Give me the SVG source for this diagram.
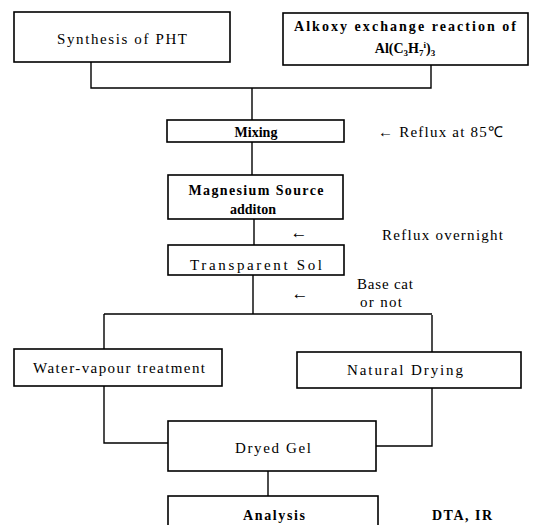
<svg xmlns="http://www.w3.org/2000/svg" width="543" height="525" viewBox="0 0 543 525">
<style>
.box{fill:#fff;stroke:#000;stroke-width:1.6}
.ln{fill:none;stroke:#000;stroke-width:1.4}
text{font-family:"Liberation Serif","Times New Roman",serif;font-size:15px;fill:#000;text-anchor:middle}
.b{font-weight:bold}
.l{text-anchor:start}
.s{font-size:14px}
.ar{font-size:17px}
</style>
<rect width="543" height="525" fill="#fff"/>
<g id="connectors">
<path class="ln" d="M91,62 V88 H431 V65 M252,88 V120"/>
<path class="ln" d="M252,142 V175"/>
<path class="ln" d="M254,219 V245"/>
<path class="ln" d="M253,275 V314 M104,314 H432"/>
<path class="ln" d="M104,314 V349 M432,315 V352"/>
<path class="ln" d="M104,386 V443 H168 M432,388 V446 H376"/>
<path class="ln" d="M268,471 V496"/>
</g>
<g id="synthesis"><rect class="box" x="14" y="12" width="216" height="50"/><text x="122" y="44" textLength="130" lengthAdjust="spacing">Synthesis of PHT</text></g>
<g id="alkoxy"><rect class="box" x="283" y="13" width="245" height="52"/><text class="b s" x="405" y="31" textLength="222" lengthAdjust="spacing">Alkoxy exchange reaction of</text><text class="b s" x="405" y="53">Al(C<tspan font-size="9" dy="3">3</tspan><tspan dy="-3">H</tspan><tspan font-size="9" dy="3">7</tspan><tspan font-size="9" dy="-8">i</tspan><tspan dy="5">)</tspan><tspan font-size="9" dy="3">3</tspan></text></g>
<g id="mixing"><rect class="box" x="167" y="120" width="177" height="22"/><text class="b s" x="256" y="137">Mixing</text></g>
<g id="magnesium"><rect class="box" x="168" y="175" width="175" height="44"/><text class="b s" x="256" y="195" textLength="135" lengthAdjust="spacing">Magnesium Source</text><text class="b s" x="253" y="214">additon</text></g>
<g id="sol"><rect class="box" x="168" y="245" width="176" height="30"/><text x="256" y="270" textLength="132" lengthAdjust="spacing">Transparent Sol</text></g>
<g id="water"><rect class="box" x="14" y="349" width="208" height="37"/><text x="119" y="373" textLength="172" lengthAdjust="spacing">Water-vapour treatment</text></g>
<g id="natural"><rect class="box" x="297" y="352" width="224" height="36"/><text x="405" y="375" textLength="116" lengthAdjust="spacing">Natural Drying</text></g>
<g id="dryedgel"><rect class="box" x="168" y="421" width="208" height="50"/><text x="273" y="453" textLength="76" lengthAdjust="spacing">Dryed Gel</text></g>
<g id="analysis"><rect class="box" x="168" y="496" width="210" height="34"/><text class="b s" x="274" y="520" textLength="62" lengthAdjust="spacing">Analysis</text></g>
<g id="labels">
<text class="l" x="378" y="137" textLength="125" lengthAdjust="spacing">← Reflux at 85℃</text>
<text class="ar" x="299" y="238">←</text>
<text class="l" x="382" y="240" textLength="121" lengthAdjust="spacing">Reflux overnight</text>
<text class="ar" x="300" y="299">←</text>
<text x="385" y="289" textLength="56" lengthAdjust="spacing">Base cat</text>
<text x="381" y="307" textLength="42" lengthAdjust="spacing">or not</text>
<text class="b l s" x="432" y="520" textLength="60" lengthAdjust="spacing">DTA, IR</text>
</g>
</svg>
